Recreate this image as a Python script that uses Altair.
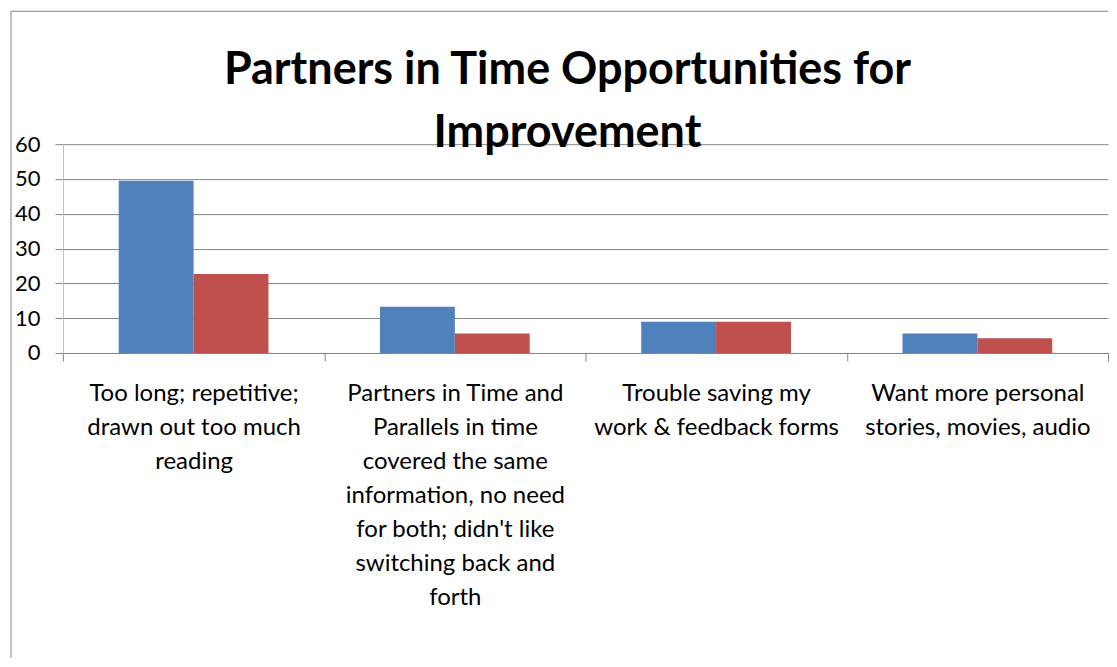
import altair as alt
import pandas as pd

categories = [
    "Too long; repetitive;\ndrawn out too much\nreading",
    "Partners in Time and\nParallels in time\ncovered the same\ninformation, no need\nfor both; didn't like\nswitching back and\nforth",
    "Trouble saving my\nwork & feedback forms",
    "Want more personal\nstories, movies, audio",
]
series_names = ["Series1", "Series2"]
series1 = [49.5, 13.3, 9.0, 5.6]
series2 = [22.7, 5.6, 9.0, 4.2]
y_ticks = [0, 10, 20, 30, 40, 50, 60]
title_lines = ["Partners in Time Opportunities for", "Improvement"]

rows = []
for c, a, b in zip(categories, series1, series2):
    rows.append({"category": c, "series": series_names[0], "value": a})
    rows.append({"category": c, "series": series_names[1], "value": b})
df = pd.DataFrame(rows)

FONT = "Lato"
GRID = "#868686"

bars = alt.Chart(df).mark_bar().encode(
    x=alt.X(
        "category:N",
        sort=categories,
        scale=alt.Scale(paddingInner=0, paddingOuter=0),
        axis=alt.Axis(
            title=None,
            labelAngle=0,
            labelExpr="split(datum.label, '\\n')",
            labelFont=FONT,
            labelFontSize=24,
            labelLineHeight=34,
            labelColor="black",
            labelPadding=21,
            labelLimit=0,
            labelBaseline="top",
            tickBand="extent",
            tickSize=8,
            tickColor=GRID,
            domainColor=GRID,
            grid=False,
        ),
    ),
    xOffset=alt.XOffset(
        "series:N",
        sort=series_names,
        scale=alt.Scale(paddingInner=0, paddingOuter=0.745),
    ),
    y=alt.Y(
        "value:Q",
        scale=alt.Scale(domain=[0, 60], nice=False),
        axis=alt.Axis(
            title=None,
            values=y_ticks,
            labelFont=FONT,
            labelFontSize=22,
            labelColor="black",
            labelPadding=15,
            tickSize=8,
            tickColor=GRID,
            gridColor=GRID,
            domainColor="#BFBFBF",
            grid=True,
        ),
    ),
    color=alt.Color(
        "series:N",
        sort=series_names,
        scale=alt.Scale(domain=series_names, range=["#4F81BD", "#C0504D"]),
        legend=None,
    ),
)

one = alt.Data(values=[{"k": 1}])
frame_left = alt.Chart(one).mark_rule(color=GRID, strokeWidth=1).encode(
    x=alt.value(-52), y=alt.value(-133), y2=alt.value(514)
)
frame_top = alt.Chart(one).mark_rule(color=GRID, strokeWidth=1).encode(
    x=alt.value(-52), x2=alt.value(1046), y=alt.value(-133)
)
title_text = alt.Chart(one).mark_text(
    text=title_lines,
    font=FONT,
    fontSize=45,
    fontWeight="bold",
    color="black",
    lineHeight=63,
    align="center",
    baseline="alphabetic",
).encode(x=alt.value(505), y=alt.value(-60))

chart = alt.layer(bars, frame_left, frame_top, title_text).properties(
    width=1046,
    height=209,
    padding={"left": 2, "top": 2, "right": 0, "bottom": 0},
).configure_view(strokeWidth=0)

chart.save("out.html", embed_options={"renderer": "svg", "actions": False})
